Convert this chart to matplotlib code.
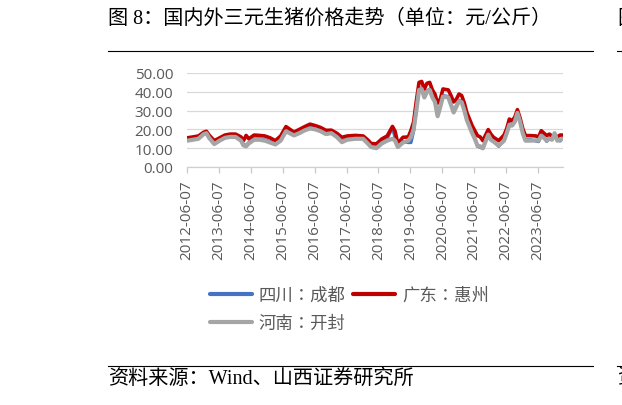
import matplotlib
matplotlib.use("Agg")
import matplotlib.pyplot as plt
import matplotlib.dates as mdates
from matplotlib.lines import Line2D
from matplotlib.ticker import FormatStrFormatter
import pandas as pd

# 日期（周度数据按月近似取点）
dates = [
    "2012-06-07", "2012-08-15", "2012-10-15", "2012-12-15", "2013-01-15", "2013-02-15",
    "2013-04-15", "2013-06-15", "2013-08-15", "2013-10-15", "2013-12-15", "2014-02-15",
    "2014-03-15", "2014-04-15", "2014-05-15", "2014-07-15", "2014-09-15", "2014-11-15",
    "2015-01-15", "2015-03-15", "2015-05-15", "2015-07-15", "2015-09-15", "2015-10-15",
    "2015-12-15", "2016-02-15", "2016-04-15", "2016-06-15", "2016-08-15", "2016-10-15",
    "2016-12-15", "2017-02-15", "2017-04-15", "2017-06-15", "2017-09-15", "2017-12-15",
    "2018-02-15", "2018-03-15", "2018-05-15", "2018-07-15", "2018-09-15", "2018-11-15",
    "2018-12-15", "2019-01-15", "2019-03-15", "2019-05-15", "2019-06-15", "2019-07-15",
    "2019-08-15", "2019-09-15", "2019-10-15", "2019-11-15", "2019-12-15", "2020-01-15",
    "2020-02-15", "2020-03-15", "2020-04-15", "2020-05-15", "2020-06-15", "2020-08-15",
    "2020-09-15", "2020-10-15", "2020-11-15", "2020-12-15", "2021-01-15", "2021-02-15",
    "2021-03-15", "2021-05-15", "2021-06-15", "2021-07-15", "2021-08-15", "2021-09-15",
    "2021-11-15", "2021-12-15", "2022-01-15", "2022-03-15", "2022-05-15", "2022-06-15",
    "2022-07-15", "2022-08-15", "2022-09-15", "2022-10-15", "2022-11-15", "2022-12-15",
    "2023-01-15", "2023-03-15", "2023-05-15", "2023-06-15", "2023-07-15", "2023-08-15",
    "2023-09-15", "2023-10-15", "2023-11-15", "2023-12-15", "2024-01-15", "2024-02-15",
    "2024-03-15",
]

guangdong = [
    15.5, 16.0, 16.5, 18.5, 19.0, 17.0,
    14.0, 15.5, 17.0, 17.5, 17.5, 16.0,
    14.0, 16.8, 15.0, 17.0, 16.8, 16.5,
    15.5, 14.0, 16.5, 21.5, 19.5, 18.6,
    20.0, 21.5, 22.8, 22.0, 21.0, 19.5,
    19.6, 18.0, 15.8, 16.5, 16.8, 16.5,
    14.0, 12.5, 12.3, 14.9, 16.5, 21.6,
    19.0, 12.5, 15.8, 16.0, 19.5, 24.0,
    35.0, 45.0, 45.5, 41.5, 44.5, 45.0,
    41.0, 38.8, 34.0, 36.0, 41.5, 41.0,
    38.0, 34.6, 36.0, 38.8, 38.0, 34.0,
    29.0, 22.0, 19.3, 16.7, 16.0, 14.0,
    19.9, 17.5, 15.8, 14.0, 17.0, 20.5,
    25.5, 24.6, 26.5, 30.5, 26.0, 20.5,
    16.7, 16.7, 16.5, 16.0, 19.3, 18.0,
    16.7, 17.5, 16.5, 16.5, 16.0, 17.0,
    17.0,
]

henan = [
    14.0, 14.5, 15.0, 17.5, 18.0, 15.5,
    12.2, 14.0, 15.5, 16.0, 16.0, 14.0,
    11.5, 11.0, 12.5, 14.5, 14.5, 14.0,
    13.0, 12.0, 14.0, 19.0, 17.5, 16.8,
    18.0, 19.5, 20.5, 20.0, 19.0, 17.5,
    18.0, 16.0, 13.2, 14.5, 15.0, 15.0,
    12.0, 10.6, 10.0, 12.5, 14.0, 15.0,
    14.0, 10.6, 13.0, 14.0, 16.0, 20.0,
    30.0, 41.0, 41.5, 37.0, 40.0, 41.0,
    37.0, 34.6, 27.0, 32.0, 37.5, 37.0,
    33.0, 29.0, 32.0, 35.0, 34.5, 30.0,
    25.0, 18.0, 14.9, 11.4, 11.0, 10.0,
    17.2, 14.5, 13.5, 11.4, 14.0, 18.0,
    22.5, 22.0, 24.0, 28.8, 24.0, 18.0,
    14.0, 14.0, 14.2, 14.0, 16.7, 15.5,
    14.0, 15.0, 14.5, 18.0, 14.0, 14.5,
    15.0,
]

sichuan = [
    14.5, 15.0, 15.5, 18.0, 18.5, 16.0,
    12.7, 14.5, 16.0, 16.5, 16.5, 14.5,
    12.0, 11.5, 13.0, 15.0, 15.0, 14.5,
    13.5, 12.5, 14.5, 19.5, 18.0, 17.3,
    18.5, 20.0, 21.0, 20.5, 19.5, 18.5,
    18.5, 16.5, 13.7, 15.0, 15.5, 15.5,
    12.5, 11.1, 10.5, 13.0, 15.0, 21.0,
    15.5, 11.1, 13.5, 13.0, 13.0, 19.0,
    30.5, 41.5, 42.0, 37.5, 40.5, 41.5,
    37.5, 35.1, 27.5, 32.5, 38.0, 37.5,
    33.5, 29.5, 32.5, 35.5, 35.0, 30.5,
    25.5, 18.5, 15.4, 11.0, 10.5, 9.8,
    17.7, 15.0, 14.0, 11.0, 14.5, 18.5,
    23.0, 22.5, 24.5, 29.3, 24.5, 18.5,
    14.5, 14.5, 13.8, 13.5, 17.2, 16.0,
    13.6, 15.5, 15.0, 17.0, 14.5, 13.8,
    15.5,
]

years = list(range(2012, 2024))
x = pd.to_datetime(dates)

cjk = ["Noto Sans CJK TC", "DejaVu Sans"]
serif_cjk = ["Liberation Serif", "Noto Sans CJK SC"]
txt_gray = "#595959"

fig = plt.figure(figsize=(6.22, 4.06), dpi=100)
W, H = 622, 406

ax = fig.add_axes([187 / W, 1 - 168 / H, (563 - 187) / W, (168 - 74) / H])

l_sc, = ax.plot(x, sichuan, color="#4472C4", lw=2.3, solid_capstyle="round", label="四川：成都")
l_gd, = ax.plot(x, guangdong, color="#C00000", lw=2.6, solid_capstyle="round", label="广东：惠州")
l_hn, = ax.plot(x, henan, color="#A5A5A5", lw=3.0, solid_capstyle="round", label="河南：开封")

ax.set_ylim(0, 50)
ax.set_yticks(range(0, 51, 10))
ax.yaxis.set_major_formatter(FormatStrFormatter("%.2f"))
ax.set_xlim(pd.Timestamp("2012-06-07"), pd.Timestamp("2024-03-20"))
ax.set_xticks([pd.Timestamp(f"{y}-06-07") for y in years])
ax.xaxis.set_major_formatter(mdates.DateFormatter("%Y-%m-%d"))

ax.grid(axis="y", color="#d9d9d9", lw=0.9)
ax.set_axisbelow(True)
for s in ["top", "right", "left"]:
    ax.spines[s].set_visible(False)
ax.spines["bottom"].set_color("#d0d0d0")
ax.spines["bottom"].set_linewidth(0.9)

ax.tick_params(axis="y", length=0, pad=10, labelsize=11, labelcolor=txt_gray)
ax.tick_params(axis="x", length=4, width=0.9, color="#c8c8c8", pad=5,
               labelsize=11, labelcolor=txt_gray, labelrotation=90)
for lab in ax.get_xticklabels() + ax.get_yticklabels():
    lab.set_fontfamily("Open Sans")

leg = ax.legend(handles=[l_sc, l_hn, l_gd], ncol=2, frameon=False,
                loc="upper left", bbox_to_anchor=(210 / W, 1 - 287 / H),
                bbox_transform=fig.transFigure, borderaxespad=0, borderpad=0,
                handlelength=2.4, handletextpad=0.4, columnspacing=0.45,
                labelspacing=0.6, prop={"family": cjk, "size": 12.5})
for t in leg.get_texts():
    t.set_color(txt_gray)
for h in leg.legend_handles:
    h.set_linewidth(3.0)

# 页面标题、分隔线与来源
fig.text(108 / W, 1 - 19 / H, "图 8：国内外三元生猪价格走势（单位：元/公斤）",
         family=serif_cjk, fontsize=14.5, va="center", ha="left", color="black")
fig.text(108 / W, 1 - 379 / H, "资料来源：Wind、山西证券研究所",
         family=serif_cjk, fontsize=14.5, va="center", ha="left", color="black")
fig.text(617 / W, 1 - 19 / H, "图", family=serif_cjk, fontsize=14.5,
         va="center", ha="left", color="black")
fig.text(617 / W, 1 - 379 / H, "资", family=serif_cjk, fontsize=14.5,
         va="center", ha="left", color="black")

for yy in [52, 367]:
    fig.add_artist(Line2D([108 / W, 593 / W], [1 - yy / H] * 2, color="black", lw=0.8))
    fig.add_artist(Line2D([617 / W, 1.0], [1 - yy / H] * 2, color="black", lw=0.8))

fig.savefig("out.png", dpi=100)
